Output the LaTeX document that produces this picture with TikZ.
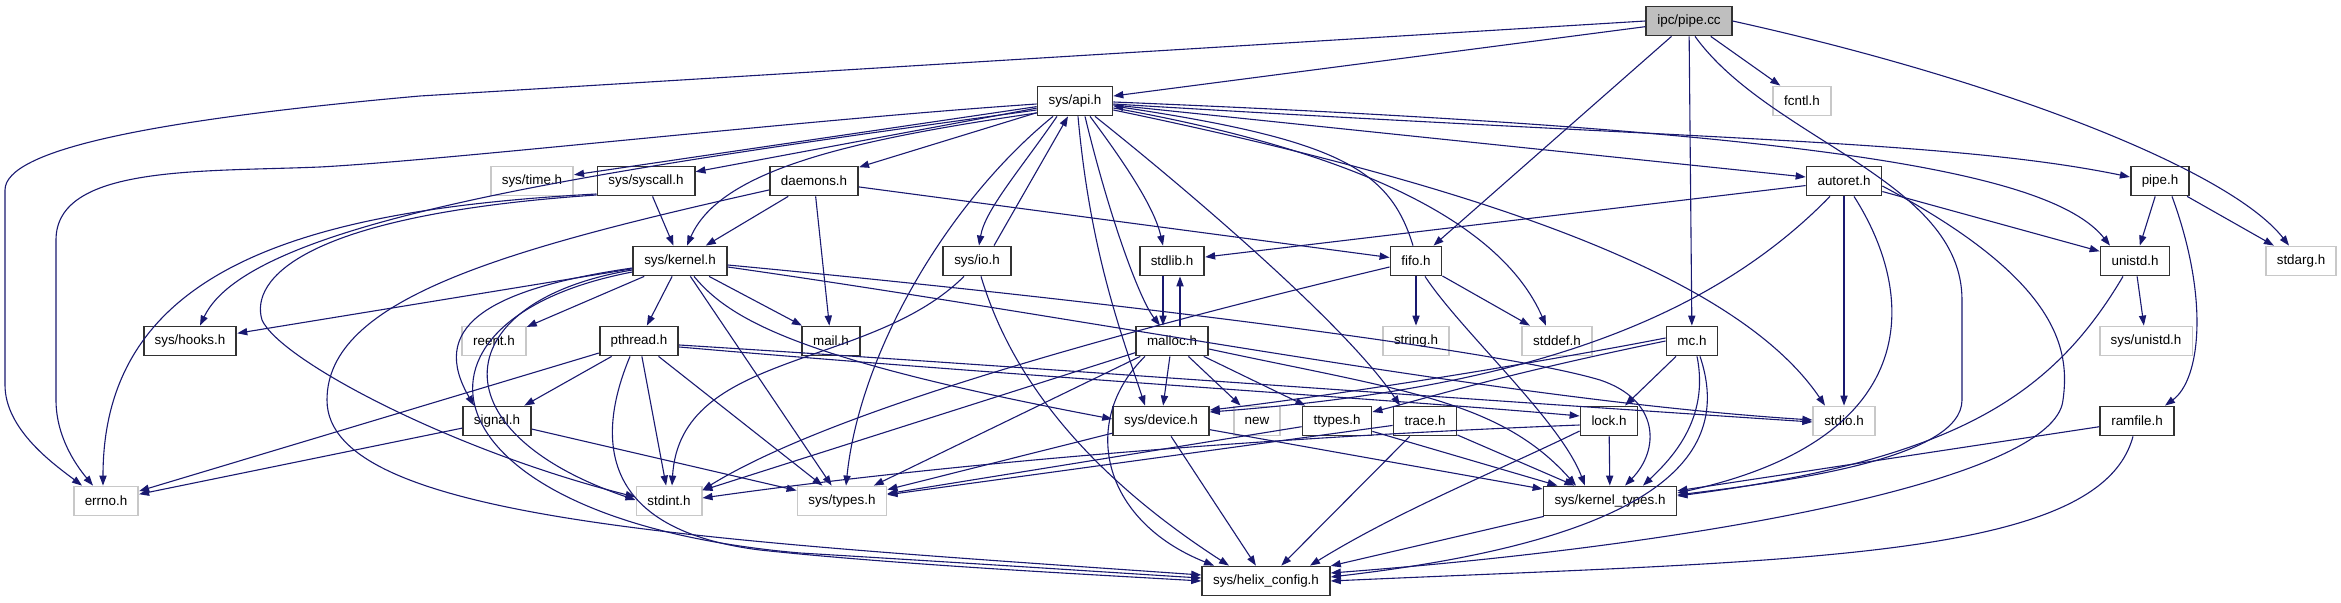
\documentclass[tikz,border=0pt]{standalone}
\usepackage{fontspec}
\setmainfont{Liberation Sans}
\usetikzlibrary{arrows.meta,calc}
\definecolor{edgec}{RGB}{25,25,112}
\definecolor{gfill}{RGB}{191,191,191}
\definecolor{gline}{RGB}{200,200,200}
\definecolor{bline}{RGB}{50,50,50}
\begin{document}
\begin{tikzpicture}[x=0.5pt,y=-0.5pt,
  box/.style={draw=bline, line width=0.9pt, fill=white, minimum height=14.5pt, inner xsep=5.5pt, inner ysep=0pt, font=\fontsize{6.7}{8}\selectfont},
  gbox/.style={box, draw=gline},
  edg/.style={draw=edgec, line width=0.55pt, -{Triangle[length=5pt,width=3.6pt]}, fill=none}]
\useasboundingbox (0,0) rectangle (2341,603);
% row 0
\node[box, fill=gfill] (pipecc) at (1689,21) {ipc/pipe.cc};
% row 1
\node[box] (api) at (1075,101) {sys/api.h};
\node[gbox] (fcntl) at (1802,101) {fcntl.h};
% row 2
\node[gbox] (time) at (532,181) {sys/time.h};
\node[box] (syscall) at (646,181) {sys/syscall.h};
\node[box] (daemons) at (814,181) {daemons.h};
\node[box] (autoret) at (1844,181) {autoret.h};
\node[box] (pipeh) at (2160,181) {pipe.h};
% row 3
\node[box] (kernel) at (680,261) {sys/kernel.h};
\node[box] (io) at (977,261) {sys/io.h};
\node[box] (stdlib) at (1172,261) {stdlib.h};
\node[box] (fifo) at (1416,261) {fifo.h};
\node[box] (unistd) at (2135,261) {unistd.h};
\node[gbox] (stdarg) at (2301,261) {stdarg.h};
% row 4
\node[box] (hooks) at (190,341) {sys/hooks.h};
\node[gbox] (reent) at (494,341) {reent.h};
\node[box] (pthread) at (639,341) {pthread.h};
\node[box] (mail) at (831,341) {mail.h};
\node[box] (malloc) at (1172,341) {malloc.h};
\node[gbox] (string) at (1416,341) {string.h};
\node[gbox] (stddef) at (1557,341) {stddef.h};
\node[box] (mc) at (1692,341) {mc.h};
\node[gbox] (sysunistd) at (2146,341) {sys/unistd.h};
% row 5
\node[box] (signal) at (497,421) {signal.h};
\node[box] (device) at (1161,421) {sys/device.h};
\node[gbox] (new) at (1257,421) {new};
\node[box] (ttypes) at (1337,421) {ttypes.h};
\node[box] (trace) at (1425,421) {trace.h};
\node[box] (lock) at (1609,421) {lock.h};
\node[gbox] (stdio) at (1844,421) {stdio.h};
\node[box] (ramfile) at (2137,421) {ramfile.h};
% row 6
\node[gbox] (errno) at (106,501) {errno.h};
\node[gbox] (stdint) at (669,501) {stdint.h};
\node[gbox] (types) at (842,501) {sys/types.h};
\node[box] (ktypes) at (1610,501) {sys/kernel\_types.h};
% row 7
\node[box] (helix) at (1266,581) {sys/helix\_config.h};

% ipc/pipe.cc
\draw[edg] (pipecc) -- (api);
\draw[edg] (pipecc.west) -- (420,96) .. controls (150,120) and (5,150) .. (5,190) -- (5,385) .. controls (5,430) and (55,465) .. ($(errno.north)+(-24,0)$);
\draw[edg] (pipecc) -- (fcntl);
\draw[edg] (pipecc) -- (fifo);
\draw[edg] (pipecc) -- (mc);
\draw[edg] (pipecc.east) .. controls (2000,80) and (2230,170) .. ($(stdarg.north)+(-12,0)$);
\draw[edg] ($(pipecc.south)+(6,0)$) .. controls (1770,140) and (1962,180) .. (1962,300) -- (1962,400) .. controls (1962,460) and (1780,482) .. ($(ktypes.east)+(0,-6)$);

% sys/api.h
\draw[edg] (api) -- (time);
\draw[edg] (api) -- (syscall);
\draw[edg] (api) -- (daemons);
\draw[edg] ($(api.west)+(0,12)$) .. controls (850,140) and (720,170) .. ($(kernel.north)+(7,0)$);
\draw[edg] ($(api.west)+(0,9)$) .. controls (600,170) and (250,220) .. ($(hooks.north)+(10,0)$);
\draw[edg] ($(api.west)+(0,3)$) .. controls (800,120) and (450,160) .. (320,167) .. controls (200,172) and (56,165) .. (56,240) -- (56,400) .. controls (56,440) and (80,470) .. ($(errno.north)+(-13,0)$);
\draw[edg] ($(api.south)+(-18,0)$) .. controls (1020,170) and (985,210) .. ($(io.north)+(2,0)$);
\draw[edg] ($(io.north)+(17,0)$) -- ($(api.south)+(-7,0)$);
\draw[edg] ($(api.south)+(-22,0)$) .. controls (950,200) and (860,350) .. ($(types.north)+(4,0)$);
\draw[edg] ($(api.south)+(3,0)$) .. controls (1090,250) and (1120,330) .. ($(device.north)+(-16,0)$);
\draw[edg] ($(api.south)+(10,0)$) .. controls (1110,220) and (1140,300) .. ($(malloc.north)+(-12,0)$);
\draw[edg] ($(api.south)+(15,0)$) .. controls (1130,170) and (1155,210) .. ($(stdlib.north)+(-9,0)$);
\draw[edg] ($(api.south)+(20,0)$) .. controls (1200,200) and (1350,330) .. ($(trace.north)+(-25,0)$);
\draw[edg] ($(api.east)+(0,7)$) .. controls (1350,150) and (1500,220) .. ($(stddef.north)+(-11,0)$);
\draw[edg] ($(api.east)+(0,9)$) .. controls (1500,190) and (1740,280) .. ($(stdio.north)+(-19,0)$);
\draw[edg] (api) -- (autoret);
\draw[edg] ($(api.east)+(0,3)$) .. controls (1700,140) and (1950,140) .. ($(pipeh.west)+(0,-4)$);
\draw[edg] ($(api.east)+(0,1)$) .. controls (1800,130) and (2050,170) .. ($(unistd.north)+(-25,0)$);
\draw[edg] ($(fifo.north)+(-3,0)$) .. controls (1390,170) and (1340,140) .. ($(api.east)+(0,5)$);

% sys/syscall.h
\draw[edg] (syscall) -- (kernel);
\draw[edg] ($(syscall.west)+(0,13)$) .. controls (300,210) and (103,270) .. ($(errno.north)+(-3,0)$);
\draw[edg] ($(syscall.west)+(0,14)$) .. controls (300,215) and (250,280) .. (262,320) .. controls (280,360) and (450,450) .. ($(stdint.west)+(0,-4)$);

% daemons.h
\draw[edg] (daemons) -- (kernel);
\draw[edg] (daemons) -- (mail);
\draw[edg] (daemons) -- (fifo);
\draw[edg] ($(daemons.west)+(0,9)$) .. controls (500,250) and (327,300) .. (327,400) .. controls (327,520) and (700,540) .. ($(helix.west)+(0,-6)$);

% sys/kernel.h
\draw[edg] (kernel) -- (hooks);
\draw[edg] (kernel) -- (reent);
\draw[edg] (kernel) -- (pthread);
\draw[edg] (kernel) -- (mail);
\draw[edg] ($(kernel.west)+(0,7)$) .. controls (480,290) and (430,330) .. ($(signal.north)+(-23,0)$);
\draw[edg] ($(kernel.west)+(0,9)$) .. controls (450,300) and (430,430) .. ($(stdint.west)+(0,-1)$);
\draw[edg] ($(kernel.west)+(0,11)$) .. controls (380,320) and (420,520) .. (800,553) .. controls (1000,565) and (1150,575) .. ($(helix.west)+(0,-3)$);
\draw[edg] (kernel) -- (types);
\draw[edg] ($(kernel.south)+(14,0)$) .. controls (730,320) and (800,360) .. ($(device.west)+(0,-2)$);
\draw[edg] ($(kernel.east)+(0,4)$) .. controls (1100,300) and (1500,350) .. (1600,380) .. controls (1660,400) and (1660,450) .. ($(ktypes.north)+(15,0)$);
\draw[edg] ($(kernel.east)+(0,6)$) .. controls (1100,320) and (1500,400) .. ($(stdio.west)+(0,-1)$);

% pthread.h
\draw[edg] (pthread) -- (signal);
\draw[edg] (pthread) -- (errno);
\draw[edg] (pthread) -- (stdint);
\draw[edg] (pthread) -- (types);
\draw[edg] ($(pthread.south)+(-9,0)$) .. controls (595,440) and (600,530) .. (760,550) .. controls (900,565) and (1100,575) .. (helix.west);
\draw[edg] ($(pthread.east)+(0,4)$) .. controls (1000,365) and (1400,395) .. ($(stdio.west)+(0,1)$);
\draw[edg] ($(pthread.east)+(0,6)$) .. controls (1000,375) and (1400,400) .. ($(lock.west)+(0,-5)$);

% signal.h
\draw[edg] (signal) -- (errno);
\draw[edg] (signal) -- (types);

% sys/io.h
\draw[edg] ($(io.south)+(-13,0)$) .. controls (870,370) and (680,350) .. ($(stdint.north)+(3,0)$);
\draw[edg] ($(io.south)+(4,0)$) .. controls (1000,340) and (1050,450) .. ($(helix.north)+(-37,0)$);

% stdlib.h / malloc.h
\draw[edg] ($(stdlib.south)+(-9,0)$) -- ($(malloc.north)+(-9,0)$);
\draw[edg] ($(malloc.north)+(8,0)$) -- ($(stdlib.south)+(8,0)$);
\draw[edg] (malloc) -- (device);
\draw[edg] (malloc) -- (new);
\draw[edg] (malloc) -- (ttypes);
\draw[edg] (malloc) -- (stdint);
\draw[edg] (malloc) -- (types);
\draw[edg] ($(malloc.south)+(-27,0)$) .. controls (1080,420) and (1100,520) .. ($(helix.north)+(-52,0)$);
\draw[edg] ($(malloc.east)+(0,8)$) .. controls (1400,390) and (1500,400) .. ($(ktypes.north)+(-34,0)$);

% sys/device.h, ttypes.h, trace.h
\draw[edg] (device) -- (types);
\draw[edg] (device) -- (helix);
\draw[edg] (device) -- (ktypes);
\draw[edg] (ttypes) -- (types);
\draw[edg] (ttypes) -- (ktypes);
\draw[edg] (trace) -- (types);
\draw[edg] (trace) -- (helix);
\draw[edg] (trace) -- (ktypes);

% fifo.h
\draw[edg] (fifo) -- (string);
\draw[edg] (fifo) -- (stddef);
\draw[edg] ($(fifo.south)+(9,0)$) .. controls (1460,330) and (1560,420) .. ($(ktypes.north)+(-25,0)$);
\draw[edg] ($(fifo.west)+(0,6)$) .. controls (1000,360) and (800,430) .. ($(stdint.east)+(0,-11)$);

% autoret.h
\draw[edg] (autoret) -- (stdlib);
\draw[edg] ($(autoret.south)+(-14,0)$) .. controls (1700,330) and (1500,390) .. ($(device.east)+(0,-9)$);
\draw[edg] (autoret) -- (stdio);
\draw[edg] ($(autoret.south)+(10,0)$) .. controls (1920,300) and (1920,440) .. ($(ktypes.east)+(0,-8)$);
\draw[edg] ($(autoret.east)+(0,5)$) .. controls (2060,280) and (2070,350) .. (2063,400) .. controls (2055,480) and (1700,545) .. ($(helix.east)+(0,-8)$);
\draw[edg] (autoret) -- (unistd);

% pipe.h
\draw[edg] (pipeh) -- (unistd);
\draw[edg] (pipeh) -- (stdarg);
\draw[edg] ($(pipeh.south)+(12,0)$) .. controls (2210,300) and (2200,380) .. ($(ramfile.north)+(28,0)$);

% unistd.h
\draw[edg] (unistd) -- (sysunistd);
\draw[edg] ($(unistd.south)+(-12,0)$) .. controls (2050,400) and (1950,460) .. ($(ktypes.east)+(0,-5)$);

% mc.h
\draw[edg] ($(mc.west)+(0,-3)$) .. controls (1500,370) and (1300,400) .. ($(device.east)+(0,-11)$);
\draw[edg] (mc.west) .. controls (1500,375) and (1420,400) .. ($(ttypes.east)+(0,-9)$);
\draw[edg] (mc) -- (lock);
\draw[edg] ($(mc.south)+(5,0)$) .. controls (1710,420) and (1670,460) .. ($(ktypes.north)+(33,0)$);
\draw[edg] ($(mc.south)+(8,0)$) .. controls (1735,460) and (1650,540) .. ($(helix.east)+(0,-4)$);

% lock.h
\draw[edg] (lock) -- (ktypes);
\draw[edg] ($(lock.west)+(0,4)$) .. controls (1200,440) and (900,470) .. ($(stdint.east)+(0,-3)$);
\draw[edg] ($(lock.west)+(0,10)$) .. controls (1500,470) and (1400,510) .. ($(helix.north)+(44,0)$);

% ramfile.h
\draw[edg] (ramfile) -- (ktypes);
\draw[edg] ($(ramfile.south)+(-4,0)$) .. controls (2100,560) and (1800,560) .. (helix.east);

% sys/kernel_types.h
\draw[edg] (ktypes) -- (helix);
\end{tikzpicture}
\end{document}
